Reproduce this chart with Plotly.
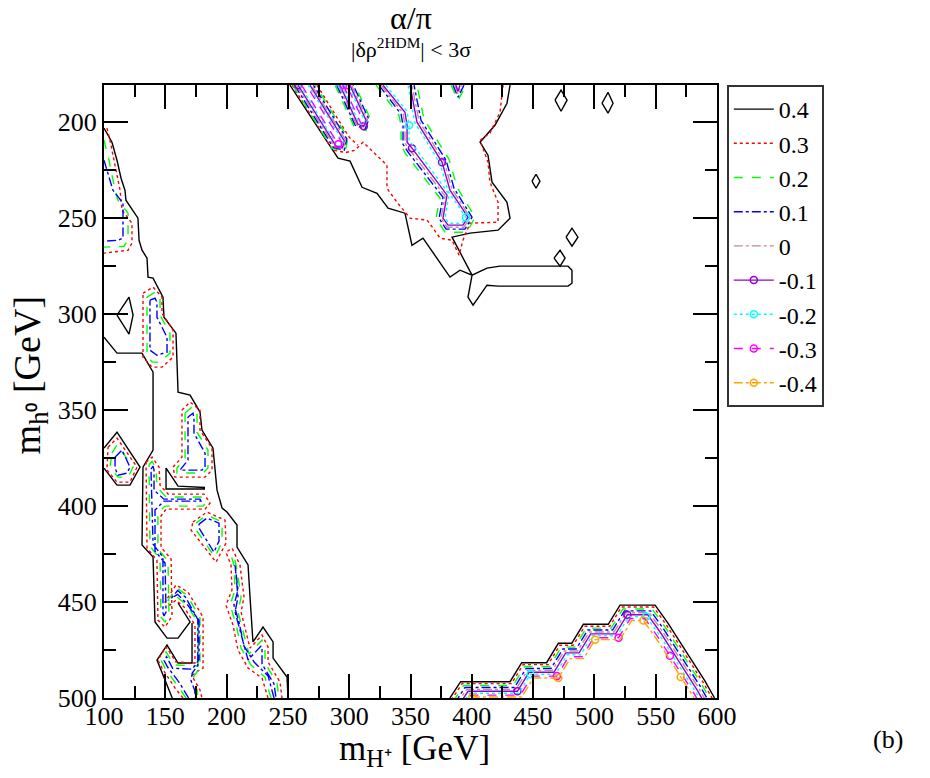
import plotly.graph_objects as go

LEVELS = ["0.4", "0.3", "0.2", "0.1", "0", "-0.1", "-0.2", "-0.3", "-0.4"]
COLORS = ["#000000", "#ff0000", "#00ff00", "#0000ff", "#bc8f8f", "#9400d3", "#00ffff", "#ff00ff", "#ffa500"]
DASHES = ["solid", "dot", "dash", "dashdot", "dashdot", "solid", "dot", "dash", "dashdot"]

# ---------------- level 0.4 (black) ----------------
lvl_04 = [
    [(100,203.1),(106.5,210.4),(110.6,219.8),(113.9,229.2),(117.1,235.4),(117.9,240.6),(127.7,250),(128.6,261.5),(131,266.7),(135.1,270.8),(135.9,280.7),(140,281.2),(148.1,291.1),(148.9,301.6),(158.7,309.9),(160.4,340.6),(170.2,342.2),(178.3,351),(179.9,360.4),(188.9,369.8),(192.2,391.7),(196.3,401),(200.3,403.1),(208.5,409.9),(208.5,421.4),(217.5,430.7),(219.1,447.4),(221.5,470.8),(229.7,463),(237.9,470.8),(237.9,479.2),(249.3,489.1),(250.1,500)],
    [(100,312),(110.6,320.3),(131,320.3),(140,330.2),(140,370.8),(131.8,379.7),(131,420.3),(140,426.5),(141.6,460.4),(151.4,468.8),(160.4,468.8),(170.2,460.4),(160.4,450.5)],
    [(171.8,460.9),(171.8,481.8),(160.4,481.8),(151.4,472.4),(143.2,480.2),(156.3,501)],
    [(182.4,391.1),(150.6,391.1),(150.6,380.2),(160.4,389.6),(182.4,390.3)],
    [(100,369.8),(110.6,361.5),(129.4,379.7),(121.2,389.1),(110.6,389.1),(100,380.2)],
    [(110.6,300.5),(120.4,291.1),(123.7,300.5),(120.4,310.4),(110.6,300.5)],
    [(251.7,180.7),(290.9,218.7),(300.7,220.3),(310.5,233.9),(322.7,237),(331.7,244.8),(345.5,247.4),(351.2,264.1),(360.2,260.4),(382.2,280.7),(390.4,277.1),(400.2,279.7),(412.4,276),(423,275),(447.5,275),(478.5,275),(481.7,277.1),(481.7,283.9),(478.5,285.4),(447.5,285.4),(421.4,285.4),(412.4,284.9),(401,295.3),(396.9,291.1),(400.2,279.7),(383.9,259.9),(398.5,257.8),(421.4,256.25),(431.2,250),(428.7,241.7),(416.5,231.25),(413.2,217.2),(406.7,210.4),(418.9,201.6),(428.7,190.1),(431.2,180.7)],
    [(467.9,188.5),(472.8,183.3),(477.7,188.5),(472.8,194.3),(467.9,188.5)],
    [(506.2,190.1),(511.1,184.4),(515.2,190.1),(511.1,195.3),(506.2,190.1)],
    [(449.1,230.7),(452.4,227.1),(455.6,230.7),(452.4,234.4),(449.1,230.7)],
    [(476.9,259.9),(481.7,255.2),(486.6,259.9),(481.7,264.6),(476.9,259.9)],
    [(467.1,270.8),(472,266.7),(476.1,270.8),(472,275),(467.1,270.8)],
    [(382.2,500),(390.9,491.5),(431.2,491.5),(440.7,481.6),(461.0,481.6),(470.6,471.5),(481.5,471.5),(491.0,461.6),(511.3,461.6),(520.9,451.6),(549.5,451.6),(560.0,461.0),(570.0,471.0),(580.0,481.0),(590.0,491.0),(598.0,500)],
]

# ---------------- level 0.3 (red) ----------------
lvl_03 = [
    [(102.4,203.1),(104.9,209.4),(109.8,225),(113.1,235.4),(114.7,245.8),(122.8,252.6),(122.8,263),(119.6,266.7),(100,268.2)],
    [(131.8,289.1),(140.0,285.9),(147.3,291.1),(147.3,299.5),(156.3,308.3),(156.3,322.4),(147.3,327.6),(139.2,327.6),(131.8,322.4),(131.8,289.1)],
    [(163.6,350),(170.2,345.8),(178.3,350),(178.3,360.4),(188.1,369.8),(188.1,381.25),(182.4,384.9),(157.9,384.9),(156.3,379.7),(163.6,374.5),(163.6,350)],
    [(103.3,369.3),(110.6,364.6),(126.9,379.7),(121.2,387.5),(110.6,387.5),(102.4,381.25),(103.3,369.3)],
    [(134.3,377.1),(139.2,374.5),(144.9,379.7),(145.7,389.1),(152.2,393.75),(181.6,393.75),(186.5,398.4),(182.4,401.6),(150.6,401.6),(146.5,405.2),(146.5,421.4),(154.7,427.6),(155.5,457.3),(149.8,463),(144.0,459.4),(143.2,428.1),(135.1,421.9),(134.3,377.1)],
    [(172.6,408.3),(184,403.1),(198.7,407.3),(199.5,419.3),(191.4,429.2),(171,412.5),(172.6,408.3)],
    [(233.8,500),(228.9,489.6),(217.5,484.4),(209.3,475),(205.2,462),(199.5,451.6),(204.4,443.75),(203.6,430.7),(199.5,424),(204.4,421.9),(210.9,430.7),(214.2,447.4),(211.8,455.2),(216.6,467.2),(219.1,474),(228.9,467.2),(233.8,473.4),(233.8,481.25),(243.6,491.7),(245.2,500)],
    [(164.4,500),(157.9,494.8),(147.3,484.4),(144.0,480.2),(150.6,473.4),(158.7,481.25),(174.2,481.8),(174.2,462),(165.3,452.6),(158.7,449),(153.8,451.6),(149.8,450),(158.7,441.1),(168.5,444.8),(180.8,457.8),(180.8,484.4),(175.0,486.5),(171.8,488.5),(178.3,495.8),(179.9,500)],
    [(253.5,180.7),(286.5,214.5),(297.2,215.8),(304.7,214.6),(311.3,210.4),(330.8,222.4),(330.8,234.4),(339.0,241.7),(349.6,250),(363.5,251),(368.4,255.2),(374.1,260.4),(383.9,261.5),(389.6,269.3),(392.8,261.5),(398.5,252.6),(421.4,252.1),(421.4,241.7),(414.8,231.25),(413.2,220.8),(406.7,209.4),(414.8,205.7),(423,194.8),(425.5,180.7)],
    [(273.7,180.7),(300.1,207.9),(307.2,212)],
    [(383.4,501),(392.1,492.5),(432.4,492.5),(441.9,482.6),(462.2,482.6),(471.8,472.5),(482.7,472.5),(492.2,462.6),(512.5,462.6),(522.1,452.6),(548.3,452.6),(558.8,462),(568.8,472),(578.8,482),(588.8,492),(596.8,501)],
]

# ---------------- level 0.2 (green) ----------------
lvl_02 = [
    [(100,209.4),(104.1,219.8),(109,235.4),(111.4,240.6),(119.6,247.4),(119.6,261.5),(116.3,264.6),(100,265.1)],
    [(135.1,291.1),(141.6,288.5),(145.7,291.7),(145.7,300.5),(153.8,309.9),(153.8,320.3),(145.7,325),(139.2,325),(135.1,321.4),(135.1,291.1)],
    [(166.1,351.6),(171.8,348.4),(175.9,351.6),(175.9,361.5),(184.8,370.8),(184.8,380.2),(180.8,382.8),(159.5,382.8),(159.5,380.2),(166.1,375),(166.1,351.6)],
    [(106.5,372.4),(110.6,368.2),(123.7,379.7),(119.6,384.9),(111.4,384.9),(104.9,379.7),(106.5,372.4)],
    [(136.7,378.6),(139.2,376.6),(142.4,380.2),(143.2,390.1),(150.6,395.3),(179.9,395.3),(183.2,398.4),(180.8,400),(149.8,400),(144.0,403.6),(144.0,422.4),(152.2,428.6),(153.0,456.25),(149.8,460.4),(146.5,457.8),(145.7,427.6),(137.5,420.8),(136.7,378.6)],
    [(175.0,408.9),(184,404.7),(196.3,408.3),(196.3,418.75),(190.5,426.6),(174.2,411.5),(175.0,408.9)],
    [(236.2,500),(231.3,489.1),(219.9,482.8),(211.8,474),(207.7,461.5),(202.8,451.6),(206.9,443.75),(206.0,430.7),(203.6,425.5),(206.9,428.1),(208.5,433.3),(211.8,447.4),(209.3,455.2),(214.2,467.2),(218.3,477.1),(228.9,469.8),(231.3,474),(231.3,481.8),(241.1,492.2),(242.7,500)],
    [(166.9,500),(159.5,493.2),(149.8,484.4),(146.5,480.2),(150.6,476),(157.1,482.8),(176.7,483.3),(176.7,460.9),(167.7,451.6),(159.5,447.4),(153.8,449.5),(152.2,449),(159.5,442.7),(167.7,446.4),(178.3,458.3),(178.3,484.4),(173.4,488.5),(172.6,490.6),(175.9,495.8),(176.7,500)],
    [(254.0,180.7),(285.9,213.5),(296.6,215.2),(299.1,208.3),(272.3,180.7)],
    [(288.5,180.7),(303.8,202.0),(313.6,204.3),(317.1,198.0),(304.7,180.7)],
    [(321.9,180.7),(340.6,196.4),(342.3,201.6),(342.3,212.0),(346.3,216.7),(374.1,239.6),(370.8,250),(378.2,257.3),(396.1,257.3),(402.6,249.5),(388.0,233.9),(381.4,219.3),(361.0,198.4),(355.3,180.7)],
    [(383.1,180.7),(388.8,188.5),(395.3,180.7)],
    [(384.6,502),(393.3,493.5),(433.6,493.5),(443.1,483.6),(463.4,483.6),(473.0,473.5),(483.9,473.5),(493.4,463.6),(513.7,463.6),(523.3,453.6),(547.1,453.6),(557.6,463),(567.6,473),(577.6,483),(587.6,493),(595.6,502)],
]

# ---------------- level 0.1 (blue) ----------------
lvl_01 = [
    [(100,219.8),(104.9,230.2),(107.3,235.4),(115.5,242.2),(115.5,260.4),(111.4,261.5),(100,262)],
    [(137.5,292.7),(141.6,291.7),(143.2,293.75),(143.2,301.6),(151.4,312),(151.4,319.8),(143.2,321.4),(137.5,318.75),(137.5,292.7)],
    [(168.5,353.6),(172.6,351.6),(173.4,354.2),(173.4,362),(182.4,372.4),(182.4,379.7),(179.9,381.25),(162,381.25),(168.5,376),(168.5,353.6)],
    [(109,374.5),(114.7,370.8),(121.2,379.7),(118.8,382.8),(111.4,383.9),(109,380.2),(109,374.5)],
    [(138.3,380.7),(140,379.2),(140.8,381.25),(140.8,391.7),(148.9,396.4),(178.3,396.4),(179.1,397.4),(148.9,397.4),(141.6,402.1),(141.6,423.4),(149.8,429.7),(150.6,455.2),(148.9,457.3),(148.1,455.7),(148.1,426.6),(140,419.8),(138.3,380.7)],
    [(177.5,409.4),(184,406.25),(193.8,408.9),(193.8,418.2),(189.7,424),(177.5,411.5),(177.5,409.4)],
    [(238.7,500),(233.8,488.5),(222.4,481.25),(214.2,472.9),(210.1,460.4),(206.0,451.6),(209.3,443.75),(207.7,433.3),(206.9,430.7),(209.3,447.4),(206.9,455.2),(211.8,467.2),(217.5,480.2),(228.1,472.9),(228.9,475),(228.9,482.3),(238.7,492.7),(240.3,500)],
    [(169,500),(161.5,492),(152,484),(149,480.5),(151,478.5),(156,484.5),(172,485),(177.5,480),(177.5,459.5),(167,450.5),(160,446),(155,448),(160,444),(166.5,447.5),(176.5,459),(176.5,483),(172,487),(171,491),(174,496),(174.5,500)],
    [(255.5,180.7),(287.0,213.1),(295.9,214.5),(298.1,208.7),(270.8,180.7)],
    [(289.9,180.7),(304.9,201.6),(313.0,203.5),(316.0,198.4),(303.3,180.7)],
    [(324.3,180.7),(342.3,195.8),(343.9,201.6),(343.9,211.5),(348.0,215.6),(376.5,239.1),(373.3,250),(379.0,255.7),(394.5,255.7),(400.2,249.5),(385.5,234.4),(379.0,219.8),(358.6,199.0),(352.9,180.7)],
    [(384.7,180.7),(388.8,187.0),(393.6,180.7)],
    [(385.8,503),(394.5,494.5),(434.8,494.5),(444.3,484.6),(464.6,484.6),(474.2,474.5),(485.1,474.5),(494.6,464.6),(514.9,464.6),(524.5,454.6),(545.9,454.6),(556.4,464),(566.4,474),(576.4,484),(586.4,494),(594.4,503)],
]

# ---------------- level 0 (brown) ----------------
lvl_00 = [
    [(256.9,180.7),(288.0,212.7),(295.3,213.8),(297.0,209.2),(269.4,180.7)],
    [(291.2,180.7),(306.0,201.3),(312.4,202.9),(314.9,198.7),(302.0,180.7)],
    [(326.0,180.7),(343.9,195.3),(345.5,201.6),(345.5,210.9),(349.6,214.6),(378.2,238.5),(374.9,250),(379.8,254.7),(393.6,254.7),(398.5,249.5),(383.9,234.9),(377.3,220.3),(357.0,199.5),(351.2,180.7)],
    [(386.3,180.7),(388.8,185.4),(392.0,180.7)],
    [(387.0,504),(395.7,495.5),(436.0,495.5),(445.5,485.6),(465.8,485.6),(475.4,475.5),(486.3,475.5),(495.8,465.6),(516.1,465.6),(525.7,455.6),(544.7,455.6),(555.2,465),(565.2,475),(575.2,485),(585.2,495),(593.2,504)],
]

# ---------------- level -0.1 (violet) ----------------
lvl_m01 = [
    [(258.3,180.7),(289.1,212.3),(294.6,213.1),(295.9,209.6),(268.0,180.7)],
    [(292.5,180.7),(307.1,201.0),(311.9,202.1),(313.7,199.0),(300.6,180.7)],
    [(327.6,180.7),(345.5,194.8),(347.2,201.6),(347.2,210.4),(351.2,213.5),(379.8,238.0),(376.5,250),(380.6,253.6),(392.8,253.6),(396.9,249.5),(382.2,235.4),(375.7,220.8),(355.3,200),(349.6,180.7)],
    [(387.1,180.7),(388.8,183.9),(390.4,180.7)],
    [(388.2,505),(396.9,496.5),(437.2,496.5),(446.7,486.6),(467.0,486.6),(476.6,476.5),(487.5,476.5),(497.0,466.6),(517.3,466.6),(526.9,456.6),(543.5,456.6),(554.0,466),(564.0,476),(574.0,486),(584.0,496),(592.0,505)],
]

# ---------------- level -0.2 (cyan) ----------------
lvl_m02 = [
    [(259.8,180.7),(290.1,211.9),(294.0,212.5),(295.0,210.0),(266.5,180.7)],
    [(293.9,180.7),(308.2,200.7),(311.4,201.4),(312.6,199.3),(299.3,180.7)],
    [(330.0,180.7),(347.2,194.3),(348.8,201.6),(348.8,209.9),(352.9,212.5),(381.4,237.5),(378.2,250),(381.4,252.6),(392.0,252.6),(395.3,249.5),(380.6,235.9),(374.1,221.4),(353.7,200.5),(348.0,180.7)],
    [(389.4,506),(398.1,497.5),(438.4,497.5),(447.9,487.6),(468.2,487.6),(477.8,477.5),(488.7,477.5),(498.2,467.6),(518.5,467.6),(528.1,457.6),(542.3,457.6),(552.8,467),(562.8,477),(572.8,487),(582.8,497),(590.8,506)],
]

# ---------------- level -0.3 (magenta) ----------------
lvl_m03 = [
    [(261.2,180.7),(291.1,211.5),(293.4,211.8),(293.9,210.4),(265.1,180.7)],
    [(295.2,180.7),(309.3,200.3),(310.9,200.7),(311.6,199.7),(297.9,180.7)],
    [(390.6,507),(399.3,498.5),(439.6,498.5),(449.1,488.6),(469.4,488.6),(479.0,478.5),(489.9,478.5),(499.4,468.6),(519.7,468.6),(529.3,458.6),(541.1,458.6),(551.6,468),(561.6,478),(571.6,488),(581.6,498),(589.6,507)],
]

# ---------------- level -0.4 (orange) ----------------
lvl_m04 = [
    [(391.8,508),(400.5,499.5),(440.8,499.5),(450.3,489.6),(470.6,489.6),(480.2,479.5),(491.1,479.5),(500.6,469.6),(520.9,469.6),(530.5,459.6),(539.9,459.6),(550.4,469),(560.4,479),(570.4,489),(580.4,499),(588.4,508)],
]

ALL_LEVELS = [lvl_04, lvl_03, lvl_02, lvl_01, lvl_00, lvl_m01, lvl_m02, lvl_m03, lvl_m04]

X_TICKS = [100, 150, 200, 250, 300, 350, 400, 450, 500, 550, 600]
Y_TICKS = [200, 250, 300, 350, 400, 450, 500]

SERIF = "Liberation Serif"

fig = go.Figure()
for i, (name, segs) in enumerate(zip(LEVELS, ALL_LEVELS)):
    xs, ys = [], []
    for seg in segs:
        xs += [p[0] for p in seg] + [None]
        ys += [p[1] for p in seg] + [None]
    neg = name.startswith("-")
    fig.add_trace(go.Scatter(
        x=xs, y=ys, name=name,
        mode="lines+markers" if neg else "lines",
        line=dict(color=COLORS[i], width=1.4, dash=DASHES[i]),
        marker=dict(symbol="circle-open", size=7, color=COLORS[i],
                    line=dict(width=1.5, color=COLORS[i]), maxdisplayed=6),
        connectgaps=False,
    ))

axis_common = dict(
    showgrid=False, zeroline=False, showline=True, linecolor="black", linewidth=2,
    mirror="allticks", ticks="inside", ticklen=24, tickwidth=2, tickcolor="black",
    tickfont=dict(family=SERIF, size=26, color="black"),
    minor=dict(ticks="inside", ticklen=12, tickwidth=2, tickcolor="black", dtick=25),
)
fig.update_xaxes(range=[100, 600], tickvals=X_TICKS, **axis_common)
fig.update_yaxes(range=[500, 180.6], tickvals=Y_TICKS, **axis_common)
try:
    fig.update_xaxes(ticklabelstandoff=-6)
except Exception:
    pass

fig.update_layout(
    width=930, height=778,
    margin=dict(l=104, r=213, t=85, b=80),
    plot_bgcolor="white", paper_bgcolor="white",
    font=dict(family=SERIF, color="black"),
    showlegend=True,
    legend=dict(
        x=1.016, y=1.0, xanchor="left", yanchor="top",
        bordercolor="#333333", borderwidth=2, bgcolor="white",
        font=dict(family=SERIF, size=24, color="black"),
        itemwidth=40, tracegroupgap=0,
    ),
    annotations=[
        dict(text="α/π", x=0.5, y=1.11, xref="paper", yref="paper", showarrow=False,
             font=dict(family=SERIF, size=32, color="black"), yanchor="middle"),
        dict(text="|δρ<sup>2HDM</sup>| < 3σ", x=0.5, y=1.06, xref="paper", yref="paper",
             showarrow=False, font=dict(family=SERIF, size=22, color="black"), yanchor="middle"),
        dict(text="m<sub>H⁺</sub> [GeV]", x=0.507, y=-0.086, xref="paper", yref="paper",
             showarrow=False, font=dict(family=SERIF, size=35, color="black"), yanchor="middle"),
        dict(text="m<sub>h⁰</sub> [GeV]", x=-0.12, y=0.527, xref="paper", yref="paper",
             showarrow=False, textangle=-90, font=dict(family=SERIF, size=38, color="black"),
             xanchor="center", yanchor="middle"),
        dict(text="(b)", x=1.307, y=-0.068, xref="paper", yref="paper", showarrow=False,
             font=dict(family=SERIF, size=26, color="black"), yanchor="middle"),
    ],
)

fig.write_html("out.html")
